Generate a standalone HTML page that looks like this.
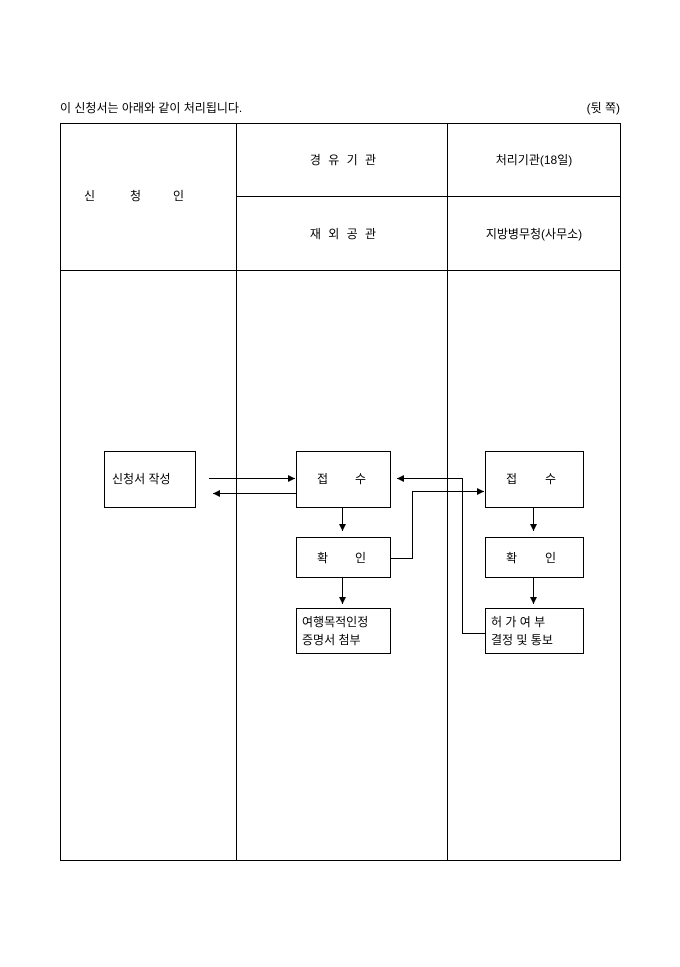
<!DOCTYPE html>
<html><head><meta charset="utf-8"><style>
body{margin:0;background:#fff;}
svg text{font-family:"Liberation Sans","Noto Sans CJK KR","NanumGothic",sans-serif;font-size:12px;fill:#000;}
</style></head><body>
<svg width="680" height="962" viewBox="0 0 680 962" xmlns="http://www.w3.org/2000/svg">
<defs><marker id="a" markerWidth="8" markerHeight="8" refX="7" refY="4" orient="auto" markerUnits="userSpaceOnUse"><path d="M0,0.5 L7,4 L0,7.5z" fill="#000"/></marker></defs>
<text x="60" y="112">이 신청서는 아래와 같이 처리됩니다.</text>
<text x="620" y="112" text-anchor="end">(뒷 쪽)</text>
<g fill="none" stroke="#000" stroke-width="1">
<rect x="60.5" y="123.5" width="560" height="737"/>
<line x1="236.5" y1="123" x2="236.5" y2="861"/>
<line x1="447.5" y1="123" x2="447.5" y2="861"/>
<line x1="236" y1="196.5" x2="621" y2="196.5"/>
<line x1="60" y1="270.5" x2="621" y2="270.5"/>
<rect x="104.5" y="451.5" width="91" height="56"/>
<rect x="296.5" y="451.5" width="94" height="56"/>
<rect x="296.5" y="537.5" width="94" height="40"/>
<rect x="296.5" y="608.5" width="94" height="45"/>
<rect x="485.5" y="451.5" width="98" height="56"/>
<rect x="485.5" y="537.5" width="98" height="40"/>
<rect x="485.5" y="608.5" width="98" height="45"/>
<line x1="209" y1="478.5" x2="295" y2="478.5" marker-end="url(#a)"/>
<line x1="296" y1="493.5" x2="213" y2="493.5" marker-end="url(#a)"/>
<line x1="342.5" y1="508" x2="342.5" y2="531" marker-end="url(#a)"/>
<line x1="342.5" y1="578" x2="342.5" y2="604" marker-end="url(#a)"/>
<line x1="533.5" y1="508" x2="533.5" y2="531" marker-end="url(#a)"/>
<line x1="533.5" y1="578" x2="533.5" y2="604" marker-end="url(#a)"/>
<polyline points="391,558.5 412.5,558.5 412.5,491.5 484,491.5" marker-end="url(#a)"/>
<polyline points="485,633.5 462.5,633.5 462.5,478.5 397,478.5" marker-end="url(#a)"/>
</g>
<text x="84" y="200">신</text><text x="130" y="200">청</text><text x="173" y="200">인</text>
<text x="344" y="164" text-anchor="middle" letter-spacing="2">경 유 기 관</text>
<text x="344" y="238" text-anchor="middle" letter-spacing="2">재 외 공 관</text>
<text x="534" y="164" text-anchor="middle">처리기관(18일)</text>
<text x="534" y="238" text-anchor="middle">지방병무청(사무소)</text>
<text x="112" y="483">신청서 작성</text>
<text x="317" y="483">접</text><text x="355" y="483">수</text>
<text x="317" y="562">확</text><text x="355" y="562">인</text>
<text x="302" y="626">여행목적인정</text>
<text x="302" y="644">증명서 첨부</text>
<text x="506" y="483">접</text><text x="545" y="483">수</text>
<text x="506" y="562">확</text><text x="545" y="562">인</text>
<text x="491" y="626">허 가 여 부</text>
<text x="491" y="644">결정 및 통보</text>
</svg>
</body></html>
